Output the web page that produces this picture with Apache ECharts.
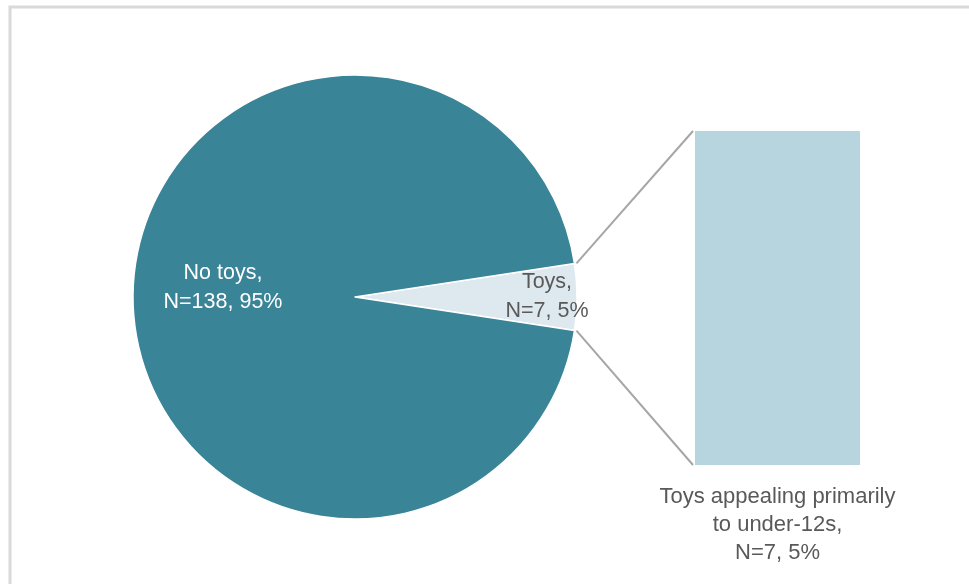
<!DOCTYPE html>
<html>
<head>
<meta charset="utf-8">
<script src="https://cdn.jsdelivr.net/npm/echarts@6/dist/echarts.min.js"></script>
<style>
  html, body { margin: 0; padding: 0; background: #fff; }
  #chart { width: 969px; height: 584px; }
</style>
</head>
<body>
<div id="chart"></div>
<script>
// Pie slices: share of items with / without toys
const pieNames = ['Toys', 'No toys'];
const pieCounts = [7, 138];
const piePercents = [5, 95];

// Breakdown bar for the "Toys" slice
const barNames = ['Toys appealing primarily\nto under-12s'];
const barCounts = [7];
const barPercents = [5];

const FONT = 'Liberation Sans, Arial, sans-serif';
const chart = echarts.init(document.getElementById('chart'));

// geometry of the pie and bar panel
const cx = 355, cy = 297, R = 222;
const toysShare = pieCounts[0] / (pieCounts[0] + pieCounts[1]);
const half = toysShare * 180;             // half-angle of the small slice (deg)
const grid = { left: 695, top: 131, width: 165, height: 334 };

const rad = half * Math.PI / 180;
const edgeX = cx + R * Math.cos(rad);
const edgeTop = cy - R * Math.sin(rad);
const edgeBot = cy + R * Math.sin(rad);

chart.setOption({
  animation: false,
  backgroundColor: '#ffffff',
  grid: { left: grid.left, top: grid.top, width: grid.width, height: grid.height },
  xAxis: { type: 'category', data: barNames, show: false },
  yAxis: { type: 'value', min: 0, max: barCounts[0], show: false },
  graphic: [
    { type: 'polyline', silent: true,
      shape: { points: [[10, 584], [10, 7], [969, 7]] },
      style: { stroke: '#d9d9d9', lineWidth: 3, fill: null } },
    { type: 'line', silent: true,
      shape: { x1: edgeX + 2, y1: edgeTop, x2: grid.left - 2, y2: grid.top },
      style: { stroke: '#a6a6a6', lineWidth: 2 } },
    { type: 'line', silent: true,
      shape: { x1: edgeX + 2, y1: edgeBot, x2: grid.left - 2, y2: grid.top + grid.height },
      style: { stroke: '#a6a6a6', lineWidth: 2 } }
  ],
  series: [
    {
      type: 'pie',
      center: [cx, cy],
      radius: R,
      startAngle: half,
      clockwise: true,
      silent: true,
      itemStyle: { borderColor: '#ffffff', borderWidth: 1.5 },
      labelLine: { show: false },
      data: [
        { name: pieNames[0], value: pieCounts[0],
          itemStyle: { color: '#dde9ef' },
          label: { show: true, position: 'inside', offset: [78, 0],
            color: '#595959', fontFamily: FONT, fontSize: 21.5, lineHeight: 29, align: 'center',
            formatter: () => pieNames[0] + ',\nN=' + pieCounts[0] + ', ' + piePercents[0] + '%' } },
        { name: pieNames[1], value: pieCounts[1],
          itemStyle: { color: '#3a8498' },
          label: { show: true, position: 'inside', offset: [-18, -9],
            color: '#ffffff', fontFamily: FONT, fontSize: 21.5, lineHeight: 29, align: 'center',
            formatter: () => pieNames[1] + ',\nN=' + pieCounts[1] + ', ' + piePercents[1] + '%' } }
      ]
    },
    {
      type: 'bar',
      barWidth: '100%',
      silent: true,
      itemStyle: { color: '#b7d5df' },
      label: {
        show: true, position: 'bottom', distance: 18,
        color: '#595959', fontFamily: FONT, fontSize: 22, lineHeight: 28, align: 'center',
        formatter: (p) => barNames[p.dataIndex] + ',\nN=' + barCounts[p.dataIndex] + ', ' + barPercents[p.dataIndex] + '%'
      },
      data: barCounts
    }
  ]
});
</script>
</body>
</html>
